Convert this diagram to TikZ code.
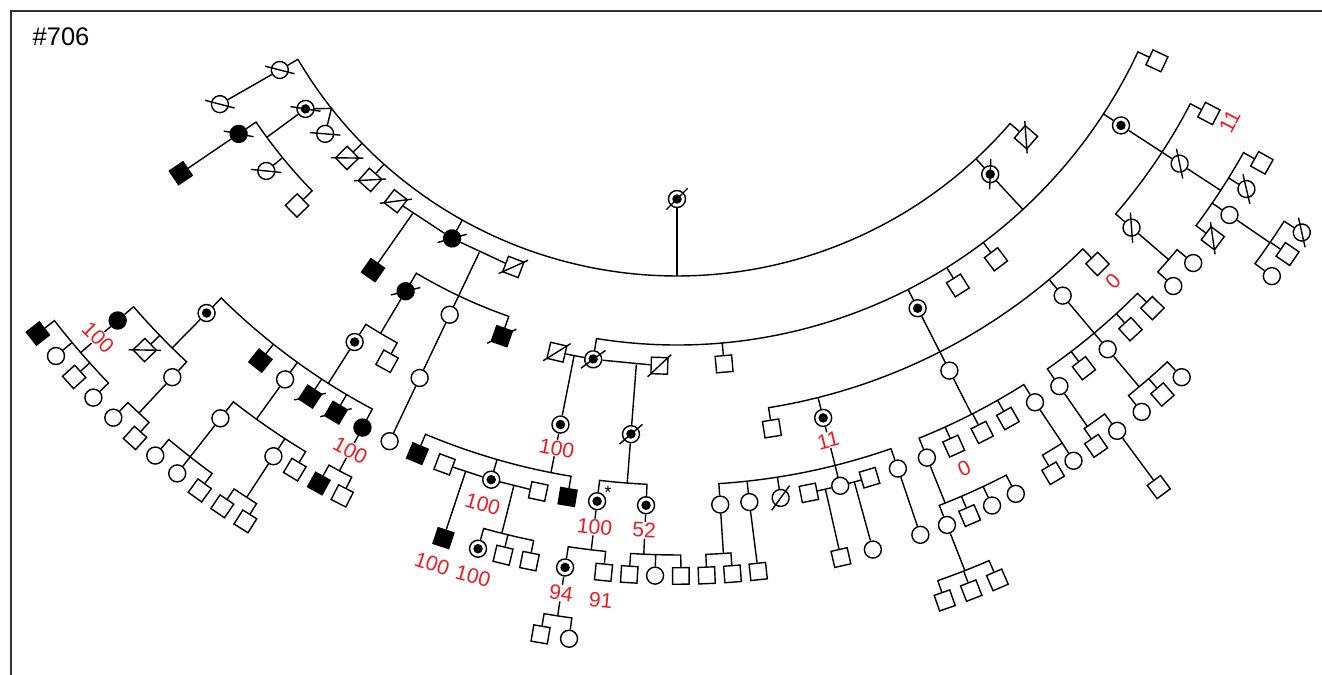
\documentclass[tikz,border=0pt]{standalone}
\usepackage{fontspec}
\setmainfont{Liberation Sans}
\definecolor{scorered}{HTML}{ED1C24}
\begin{document}
\begin{tikzpicture}[x=0.02cm, y=-0.02cm, line width=0.8pt,
	male/.style={rectangle, draw, fill=white, minimum size=0.33cm, inner sep=0pt},
	female/.style={circle, draw, fill=white, minimum size=0.34cm, inner sep=0pt},
	carrier/.style={female, path picture={\fill[black] (path picture bounding box.center) circle (0.095cm);}},
	affected/.style={fill=black},
	dead/.style={append after command={(\tikzlastnode.south west) edge[draw, shorten <=-#1, shorten >=-#1] (\tikzlastnode.north east)}},
	dead/.default=2pt,
	score/.style={text=scorered, font=\fontsize{12}{14}\selectfont, inner sep=0.5pt}]
\useasboundingbox (0,0) rectangle (1322,675);
\draw[line width=1.1pt, black!80] (11,675) -- (11,11) -- (1322,11);
\node (title) at (32,46) [anchor=base west, inner sep=0pt, font=\fontsize{14.5}{17}\selectfont] {\#706};

\begin{scope}[shift={(677,-164)}]
% generation 1
\node (P0) at (90:363) [carrier, dead=3.4pt] {};
% generation 2
\node (A1) at (149.5:461) [female, dead=3.4pt, rotate=-59.5] {};
\node (A2) at (143.7:461) [carrier, dead=3.4pt, rotate=-53.7] {};
\node (A3) at (139.75:461) [female, dead=3.4pt, rotate=-49.75] {};
\node (A4) at (135.7:461) [male, dead, rotate=-45.7] {};
\node (A5) at (131.75:461) [male, dead, rotate=-41.75] {};
\node (S1) at (127.6:461) [male, dead, rotate=-37.6] {};
\node (A6) at (119.2:461) [female, affected, dead=3.4pt, rotate=-29.2] {};
\node (S2) at (110.8:461) [male, dead, rotate=-20.8] {};
\node (A7) at (47.2:461) [carrier, dead=3.4pt, rotate=42.8] {};
\node (A8) at (40.8:461) [male, dead, rotate=49.2] {};
% generation 3
\node (B12) at (149.6:530) [female, dead=3.4pt, rotate=-59.6] {};
\node (B13) at (145.8:530) [female, affected, dead=3.4pt, rotate=-55.8] {};
\node (B14) at (140.8:530) [female, dead=3.4pt, rotate=-50.8] {};
\node (B15) at (135.8:530) [male, rotate=-45.8] {};
\node (B1) at (125:530) [male, affected, rotate=-35] {};
\node (B2) at (120.8:530) [female, affected, dead=3.4pt, rotate=-30.8] {};
\node (B3) at (115.4:530) [female] {};
\node (B4) at (109.3:530) [male, affected, dead, rotate=-19.3] {};
\node (SB1) at (103.1:530) [male, dead, rotate=-13.1] {};
\node (B5) at (99.1:530) [carrier, dead=3.4pt, rotate=-9.1] {};
\node (SB2) at (91.9:530) [male, dead, rotate=-1.9] {};
\node (B6) at (84.9:530) [male, rotate=5.1] {};
\node (B7) at (63:530) [carrier] {};
\node (B8) at (58:530) [male, rotate=32] {};
\node (B9) at (53:530) [male, rotate=37] {};
\node (B10) at (33.1:530) [carrier] {};
\node (B11) at (25.1:530) [male, rotate=64.9] {};
% generation 4
\node (C9) at (145.8:600) [male, affected, rotate=-55.8] {};
\node (C12) at (122.5:600) [carrier] {};
\node (C13) at (118.9:600) [male, rotate=-28.9] {};
\node (C14) at (115.4:600) [female] {};
\node (C10) at (101.2:600) [carrier] {};
\node (C11) at (94.4:600) [carrier, dead=3.4pt, rotate=-4.4] {};
\node (C1) at (80.9:600) [male, rotate=9.1] {};
\node (C2) at (75.9:600) [carrier] {};
\node (C3) at (63:600) [female] {};
\node (C4) at (50:600) [female] {};
\node (C5) at (45.5:600) [male, rotate=44.5] {};
\node (C6) at (27.55:600) [male, rotate=62.45] {};
\node (C7) at (33.1:600) [female, dead=3.4pt, rotate=56.9] {};
\node (C8) at (40.75:600) [female, dead=3.4pt, rotate=49.25] {};
% generation 5
\node (D28) at (134.6:670) [carrier] {};
\node (D29) at (128.45:670) [male, affected, rotate=-38.45] {};
\node (D30) at (125.8:670) [female] {};
\node (D31) at (123.2:670) [male, affected, dead, rotate=-33.2] {};
\node (D32) at (120.6:670) [male, affected, dead, rotate=-30.6] {};
\node (D33) at (118:670) [female, affected] {};
\node (D27) at (115.4:670) [female] {};
\node (D7) at (112.8:670) [male, affected, rotate=-22.8] {};
\node (SD1) at (110.3:670) [male, rotate=-20.3] {};
\node (D8) at (106.1:670) [carrier] {};
\node (SD2) at (101.95:670) [male, rotate=-11.95] {};
\node (D9) at (99.4:670) [male, affected, rotate=-9.4] {};
\node (D10) at (96.85:670) [carrier] {};
\node (D11) at (92.65:670) [carrier] {};
\node (D12) at (86.3:670) [female] {};
\node (D13) at (83.8:670) [female] {};
\node (D14) at (81.1:670) [female, dead=3.4pt, rotate=8.9] {};
\node (SD3) at (78.65:670) [male, rotate=11.35] {};
\node (D15) at (75.9:670) [female] {};
\node (SD4) at (73.3:670) [male, rotate=16.7] {};
\node (D16) at (70.75:670) [female] {};
\node (D17) at (68.1:670) [female] {};
\node (D18) at (65.6:670) [male, rotate=24.4] {};
\node (D19) at (62.9:670) [male, rotate=27.1] {};
\node (D20) at (60.4:670) [male, rotate=29.6] {};
\node (D21) at (57.7:670) [female] {};
\node (D22) at (55.2:670) [female] {};
\node (D23) at (52.6:670) [male, rotate=37.4] {};
\node (D24) at (50:670) [female] {};
\node (D25) at (47.4:670) [male, rotate=42.6] {};
\node (D26) at (44.8:670) [male, rotate=45.2] {};
\node (D1) at (29.2:670) [male, rotate=60.8] {};
\node (D2) at (31.8:670) [female, dead=3.4pt, rotate=58.2] {};
\node (D3) at (34.45:670) [female] {};
\node (D4) at (36.9:670) [male, dead, rotate=53.1] {};
\node (D5) at (39.6:670) [female] {};
\node (D6) at (42.2:670) [female] {};
% generation 6
\node (E28) at (139.1:740) [female, affected] {};
\node (E29) at (136:740) [male, dead, rotate=-46] {};
\node (E30) at (133:740) [female] {};
\node (E31) at (128.1:740) [female] {};
\node (E32) at (123.05:740) [female] {};
\node (E33) at (121.1:740) [male, rotate=-31.1] {};
\node (E34) at (118.95:740) [male, affected, rotate=-28.95] {};
\node (E35) at (116.9:740) [male, rotate=-26.9] {};
\node (E4) at (108.4:740) [male, affected, rotate=-18.4] {};
\node (E5) at (105.6:740) [carrier] {};
\node (E6) at (103.6:740) [male, rotate=-13.6] {};
\node (E7) at (101.5:740) [male, rotate=-11.5] {};
\node (E8) at (98.7:740) [carrier] {};
\node (E9) at (95.7:740) [male, rotate=-5.7] {};
\node (E10) at (93.7:740) [male, rotate=-3.7] {};
\node (E11) at (91.7:740) [female] {};
\node (E12) at (89.7:740) [male, rotate=0.3] {};
\node (E13) at (87.7:740) [male, rotate=2.3] {};
\node (E14) at (85.7:740) [male, rotate=4.3] {};
\node (E15) at (83.7:740) [male, rotate=6.3] {};
\node (E16) at (77.2:740) [male, rotate=12.8] {};
\node (E17) at (74.65:740) [female] {};
\node (E18) at (70.8:740) [female] {};
\node (E19) at (68.6:740) [female] {};
\node (E20) at (66.7:740) [male, rotate=23.3] {};
\node (E21) at (64.8:740) [female] {};
\node (E22) at (62.75:740) [female] {};
\node (E36) at (59.45:740) [male, rotate=30.55] {};
\node (E37) at (57.6:740) [female] {};
\node (E23) at (55.5:740) [male, rotate=34.5] {};
\node (E24) at (53.5:740) [female] {};
\node (E25) at (51.1:740) [female] {};
\node (E26) at (49:740) [male, rotate=41] {};
\node (E27) at (47:740) [female] {};
\node (E1) at (32.4:740) [female, dead=3.4pt, rotate=57.6] {};
\node (E2) at (34.4:740) [male, rotate=55.6] {};
\node (E3) at (36.5:740) [female] {};
% generation 7
\node (F7) at (142.1:810) [male, affected, rotate=-52.1] {};
\node (F8) at (140.06:810) [female] {};
\node (F9) at (138.1:810) [male, rotate=-48.1] {};
\node (F10) at (136.1:810) [female] {};
\node (F11) at (134.1:810) [female] {};
\node (F12) at (132:810) [male, rotate=-42] {};
\node (F13) at (130.1:810) [female] {};
\node (F14) at (128.1:810) [female] {};
\node (F15) at (126.1:810) [male, rotate=-36.1] {};
\node (F16) at (124.15:810) [male, rotate=-34.15] {};
\node (F17) at (122.2:810) [male, rotate=-32.2] {};
\node (F1) at (99.7:810) [male, rotate=-9.7] {};
\node (F2) at (97.66:810) [female] {};
\node (F3) at (70.7:810) [male, rotate=19.3] {};
\node (F4) at (68.7:810) [male, rotate=21.3] {};
\node (F5) at (66.7:810) [male, rotate=23.3] {};
\node (F6) at (53.5:810) [male, rotate=36.5] {};

% sibships of generation 2
\draw[line width=1.2pt] (P0) -- (90:440);
\draw (A1) -- (149.5:440) arc[start angle=149.5, end angle=40.8, radius=440] -- (A8);
\draw (141.75:440) -- (A2) (141.75:440) -- (A3) (135.7:440) -- (A4) (131.75:440) -- (A5) (119.2:440) -- (A6) (47.2:440) -- (A7);
\draw (A1) -- (B12);
\draw (A2) -- (143.7:509);
\draw (B13) -- (145.8:509) arc[start angle=145.8, end angle=135.8, radius=509] -- (B15);
\draw (140.8:509) -- (B14);
\draw (B13) -- (C9);
\draw (S1) -- (A6) -- (S2);
\draw (125:461) -- (B1);
\draw (115.4:461) -- (115.4:509);
\draw (B2) -- (120.8:509) arc[start angle=120.8, end angle=109.3, radius=509] -- (B4);
\draw (115.4:509) -- (B3);
% left branch
\draw (B2) -- (120.8:579);
\draw (C12) -- (122.5:579) arc[start angle=122.5, end angle=118.9, radius=579] -- (C13);
\draw (B3) -- (C14) -- (D27);
\draw (C12) -- (122.5:649);
\draw (D28) -- (134.6:649) arc[start angle=134.6, end angle=118, radius=649] -- (D33);
\draw (128.45:649) -- (D29) (125.8:649) -- (D30) (123.2:649) -- (D31) (120.6:649) -- (D32);
\draw (D28) -- (134.6:719);
\draw (E28) -- (139.1:719) arc[start angle=139.1, end angle=133, radius=719] -- (E30);
\draw (136:719) -- (E29);
\draw (E28) -- (139.1:789);
\draw (F7) -- (142.1:789) arc[start angle=142.1, end angle=136.1, radius=789] -- (F10);
\draw (140.06:789) -- (F8) (138.1:789) -- (F9);
\draw (E30) -- (133:789);
\draw (F11) -- (134.1:789) arc[start angle=134.1, end angle=132, radius=789] -- (F12);
\draw (D30) -- (125.8:719);
\draw (E31) -- (128.1:719) arc[start angle=128.1, end angle=121.1, radius=719] -- (E33);
\draw (123.05:719) -- (E32);
\draw (E31) -- (128.1:789);
\draw (F13) -- (130.1:789) arc[start angle=130.1, end angle=126.1, radius=789] -- (F15);
\draw (128.1:789) -- (F14);
\draw (E32) -- (123.05:789);
\draw (F16) -- (124.15:789) arc[start angle=124.15, end angle=122.2, radius=789] -- (F17);
\draw (D33) -- (118:719);
\draw (E34) -- (118.95:719) arc[start angle=118.95, end angle=116.9, radius=719] -- (E35);
% right branch
\draw (A7) -- (47.2:509);
\draw (B5) -- (99.1:509) arc[start angle=99.1, end angle=25.1, radius=509] -- (B11);
\draw (84.9:509) -- (B6) (63:509) -- (B7) (58:509) -- (B8) (53:509) -- (B9) (33.1:509) -- (B10);
\draw (SB1) -- (B5) -- (SB2);
\draw (101.2:530) -- (C10);
\draw (94.4:530) -- (C11);
\draw (C10) -- (101.2:649);
\draw (D7) -- (112.8:649) arc[start angle=112.8, end angle=99.4, radius=649] -- (D9);
\draw (106.1:649) -- (D8);
\draw (SD1) -- (D8) -- (SD2);
\draw (108.4:670) -- (E4);
\draw (104.1:670) -- (104.1:719);
\draw (E5) -- (105.6:719) arc[start angle=105.6, end angle=101.5, radius=719] -- (E7);
\draw (103.6:719) -- (E6);
\draw (C11) -- (94.4:649);
\draw (D10) -- (96.85:649) arc[start angle=96.85, end angle=92.65, radius=649] -- (D11);
\draw (D10) -- (96.85:719);
\draw (E8) -- (98.7:719) arc[start angle=98.7, end angle=95.7, radius=719] -- (E9);
\draw (E8) -- (98.7:789);
\draw (F1) -- (99.7:789) arc[start angle=99.7, end angle=97.66, radius=789] -- (F2);
\draw (D11) -- (92.65:719);
\draw (E10) -- (93.7:719) arc[start angle=93.7, end angle=89.7, radius=719] -- (E12);
\draw (91.7:719) -- (E11);
\draw (B7) -- (63:579);
\draw (C1) -- (80.9:579) arc[start angle=80.9, end angle=45.5, radius=579] -- (C5);
\draw (75.9:579) -- (C2) (63:579) -- (C3) (50:579) -- (C4);
\draw (C2) -- (75.9:649);
\draw (D12) -- (86.3:649) arc[start angle=86.3, end angle=70.75, radius=649] -- (D16);
\draw (83.8:649) -- (D13) (81.1:649) -- (D14) (75.9:649) -- (D15);
\draw (SD3) -- (D15) -- (SD4);
\draw (D12) -- (86.3:719);
\draw (E13) -- (87.7:719) arc[start angle=87.7, end angle=85.7, radius=719] -- (E14);
\draw (D13) -- (E15);
\draw (77.2:670) -- (E16);
\draw (74.65:670) -- (E17);
\draw (D16) -- (E18);
\draw (C3) -- (63:649);
\draw (D17) -- (68.1:649) arc[start angle=68.1, end angle=57.7, radius=649] -- (D21);
\draw (65.6:649) -- (D18) (62.9:649) -- (D19) (60.4:649) -- (D20);
\draw (D17) -- (68.1:719);
\draw (E19) -- (68.6:719) arc[start angle=68.6, end angle=62.75, radius=719] -- (E22);
\draw (66.7:719) -- (E20) (64.8:719) -- (E21);
\draw (E19) -- (68.6:789);
\draw (F3) -- (70.7:789) arc[start angle=70.7, end angle=66.7, radius=789] -- (F5);
\draw (68.7:789) -- (F4);
\draw (D21) -- (57.6:719);
\draw (E36) -- (59.45:719) arc[start angle=59.45, end angle=57.6, radius=719] -- (E37);
\draw (C4) -- (50:649);
\draw (D22) -- (55.2:649) arc[start angle=55.2, end angle=44.8, radius=649] -- (D26);
\draw (52.6:649) -- (D23) (50:649) -- (D24) (47.4:649) -- (D25);
\draw (D22) -- (55.2:719);
\draw (E23) -- (55.5:719) arc[start angle=55.5, end angle=53.5, radius=719] -- (E24);
\draw (E24) -- (F6);
\draw (D24) -- (50:719);
\draw (E25) -- (51.1:719) arc[start angle=51.1, end angle=47, radius=719] -- (E27);
\draw (49:719) -- (E26);
\draw (B10) -- (33.1:579);
\draw (C6) -- (27.55:579) arc[start angle=27.55, end angle=40.75, radius=579] -- (C8);
\draw (33.1:579) -- (C7);
\draw (C7) -- (33.1:649);
\draw (D1) -- (29.2:649) arc[start angle=29.2, end angle=36.9, radius=649] -- (D4);
\draw (31.8:649) -- (D2) (34.45:649) -- (D3);
\draw (D3) -- (34.45:719);
\draw (E1) -- (32.4:719) arc[start angle=32.4, end angle=36.5, radius=719] -- (E3);
\draw (34.4:719) -- (E2);
\draw (C8) -- (40.75:649);
\draw (D5) -- (39.6:649) arc[start angle=39.6, end angle=42.2, radius=649] -- (D6);

% scores
\node (t1) at (139.1:766) [score, fill=white, rotate=-45] {100};
\node (t2) at (118:696) [score, fill=white, rotate=-28] {100};
\node (t3) at (101.1:624) [score, fill=white, rotate=-11.1] {100};
\node (t4) at (106.2:696) [score, rotate=-16.2] {100};
\node (t5) at (108.6:768) [score, rotate=-18.6] {100};
\node (t6) at (105.4:768) [score, rotate=-15.4] {100};
\node (t7) at (96.8:696) [score, fill=white, rotate=-6.8] {100};
\node (t8) at (92.7:695) [score, fill=white, rotate=-2.7] {52};
\node (t9) at (98.7:766) [score, fill=white, rotate=-8.7] {94};
\node (t10) at (95.7:768) [score, rotate=-5.7] {91};
\node (t11) at (75.96:623) [score, fill=white, rotate=14] {11};
\node (t12) at (65.6:695) [score, rotate=24.4] {0};
\node (t13) at (45.6:623) [score, rotate=44.4] {0};
\node (t14) at (27.3:622) [score, rotate=62.7] {11};
\node (star) at (96:660) [font=\fontsize{10}{12}\selectfont, inner sep=0pt] {*};
\end{scope}
\end{tikzpicture}
\end{document}
